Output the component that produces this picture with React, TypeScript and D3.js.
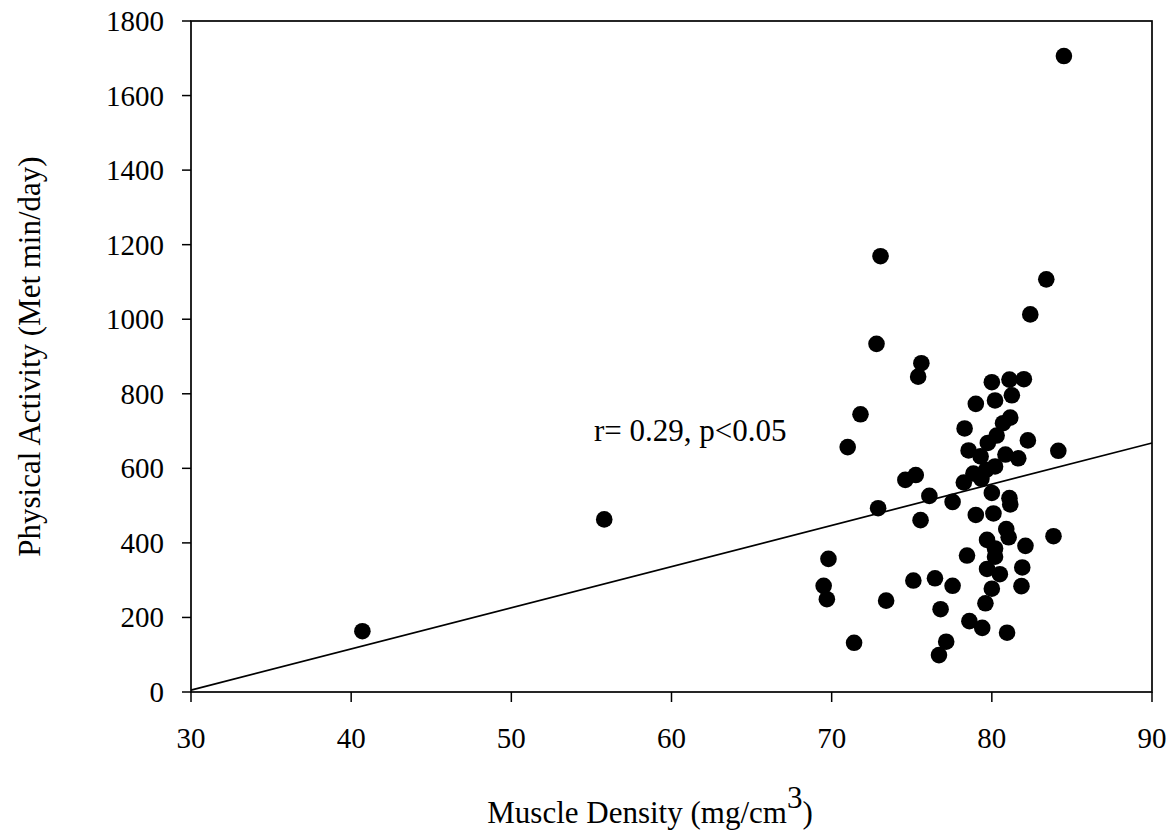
import React from "react";
import * as d3 from "d3";

const muscleDensity: number[] = [
  40.7, 55.8, 69.5, 69.7, 69.8, 71.0, 71.4, 71.8, 72.8, 72.9, 73.05, 73.4,
  74.6, 75.1, 75.25, 75.4, 75.6, 75.55, 76.1, 76.45, 76.7, 76.8, 77.15, 77.55,
  77.55, 78.25, 78.3, 78.45, 78.55, 78.6, 78.85, 79.0, 79.0, 79.3, 79.35, 79.4,
  79.6, 79.65, 79.7, 79.7, 79.75, 80.0, 80.0, 80.0, 80.1, 80.2, 80.2, 80.2,
  80.2, 80.3, 80.5, 80.7, 80.85, 80.9, 80.95, 81.05, 81.1, 81.1, 81.15, 81.15,
  81.25, 81.65, 81.85, 81.9, 82.0, 82.1, 82.25, 82.4, 83.4, 83.85, 84.15, 84.5,
];
const physicalActivity: number[] = [
  163, 463, 285, 249, 357, 657, 132, 745, 934, 493, 1169, 245,
  569, 299, 582, 846, 882, 461, 526, 305, 99, 222, 135, 510,
  285, 562, 707, 366, 648, 190, 586, 773, 475, 632, 572, 172,
  238, 596, 408, 330, 668, 831, 534, 277, 479, 605, 782, 385,
  363, 688, 316, 721, 637, 437, 159, 415, 838, 520, 503, 736,
  796, 627, 284, 334, 839, 392, 675, 1013, 1107, 418, 647, 1706,
];
const xTicks: number[] = [30, 40, 50, 60, 70, 80, 90];
const yTicks: number[] = [0, 200, 400, 600, 800, 1000, 1200, 1400, 1600, 1800];
const fitSlope = 11.05;
const fitIntercept = -326.5;
const fitRange: number[] = [30, 90];
const annotation = "r= 0.29, p<0.05";

export default function App() {
  const W = 1174;
  const H = 836;
  const x = d3.scaleLinear().domain([30, 90]).range([191, 1152]);
  const y = d3.scaleLinear().domain([0, 1800]).range([692, 21]);
  const font = "'Liberation Serif', 'Times New Roman', serif";
  const pts = muscleDensity.map((v, i) => [v, physicalActivity[i]]);
  const line = d3
    .line<number>()
    .x((d) => x(d))
    .y((d) => y(fitIntercept + fitSlope * d));

  return (
    <svg
      width={W}
      height={H}
      style={{ position: "absolute", left: 0, top: 0, background: "#fff" }}
      fontFamily={font}
    >
      <rect x={0} y={0} width={W} height={H} fill="#fff" />
      {/* frame */}
      <rect
        x={x(30)}
        y={y(1800)}
        width={x(90) - x(30)}
        height={y(0) - y(1800)}
        fill="none"
        stroke="#000"
        strokeWidth={1.7}
      />
      {yTicks.map((t) => (
        <g key={"y" + t}>
          <line x1={x(30) - 9} x2={x(30)} y1={y(t)} y2={y(t)} stroke="#000" strokeWidth={1.5} />
          <text
            x={x(30) - 27}
            y={y(t)}
            textAnchor="end"
            dominantBaseline="central"
            fontSize={29}
          >
            {t}
          </text>
        </g>
      ))}
      {xTicks.map((t) => (
        <g key={"x" + t}>
          <line x1={x(t)} x2={x(t)} y1={y(0)} y2={y(0) + 10} stroke="#000" strokeWidth={1.5} />
          <text x={x(t)} y={y(0) + 56} textAnchor="middle" fontSize={29}>
            {t}
          </text>
        </g>
      ))}
      {/* regression line */}
      <path d={line(fitRange) || ""} stroke="#000" strokeWidth={1.7} fill="none" />
      {/* points */}
      {pts.map((p, i) => (
        <circle key={i} cx={x(p[0])} cy={y(p[1])} r={8.3} fill="#000" />
      ))}
      <text x={594} y={441} fontSize={31}>
        {annotation}
      </text>
      {/* titles */}
      <text
        transform={`translate(40,${(y(0) + y(1800)) / 2}) rotate(-90)`}
        textAnchor="middle"
        fontSize={31}
      >
        Physical Activity (Met min/day)
      </text>
      <text x={650} y={823} textAnchor="middle" fontSize={31}>
        Muscle Density (mg/cm
        <tspan dy={-15}>3</tspan>
        <tspan dy={15}>)</tspan>
      </text>
    </svg>
  );
}
